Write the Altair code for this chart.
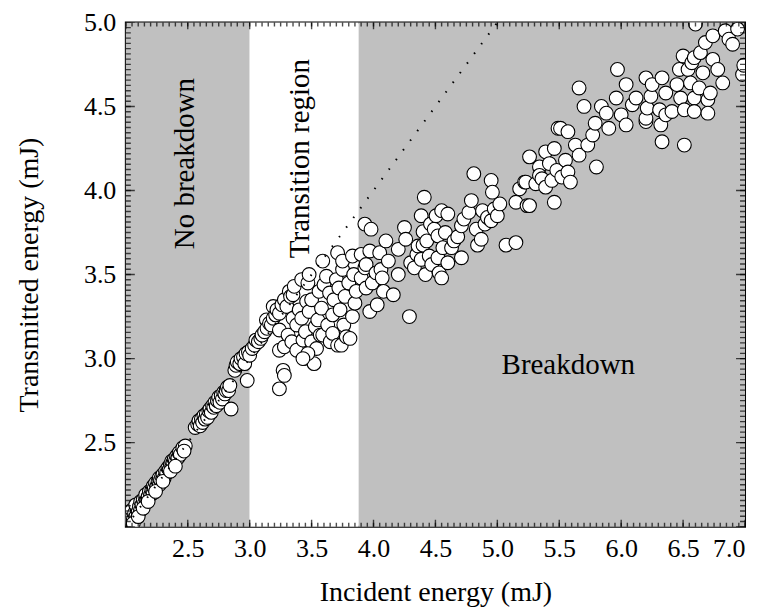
import altair as alt
import numpy as np
import pandas as pd

# ---------------- data ----------------
no_breakdown_pts = [
    (2.03, 2.05), (2.04, 2.03), (2.05, 2.07), (2.06, 2.04), (2.05, 2.10), (2.07, 2.08),
    (2.08, 2.06), (2.09, 2.11), (2.08, 2.13), (2.10, 2.09), (2.11, 2.12), (2.12, 2.10),
    (2.12, 2.15), (2.13, 2.13), (2.14, 2.16), (2.15, 2.14), (2.16, 2.17), (2.16, 2.19),
    (2.17, 2.16), (2.18, 2.18), (2.19, 2.21), (2.20, 2.19), (2.21, 2.22), (2.22, 2.20),
    (2.22, 2.24), (2.23, 2.23), (2.24, 2.26), (2.25, 2.24), (2.26, 2.27), (2.27, 2.25),
    (2.27, 2.29), (2.28, 2.28), (2.29, 2.30), (2.30, 2.31), (2.31, 2.29), (2.32, 2.33),
    (2.33, 2.32), (2.34, 2.35), (2.35, 2.34), (2.36, 2.37), (2.37, 2.36), (2.37, 2.39),
    (2.38, 2.38), (2.39, 2.40), (2.40, 2.39), (2.41, 2.42), (2.42, 2.41), (2.43, 2.44),
    (2.44, 2.43), (2.46, 2.47), (2.48, 2.48), (2.47, 2.45), (2.06, 2.02), (2.10, 2.06),
    (2.14, 2.11), (2.18, 2.15), (2.24, 2.21), (2.30, 2.27), (2.36, 2.33), (2.40, 2.36),
    (2.56, 2.59), (2.58, 2.61), (2.59, 2.63), (2.60, 2.60), (2.61, 2.64), (2.62, 2.62),
    (2.63, 2.66), (2.64, 2.64), (2.65, 2.67), (2.66, 2.65), (2.67, 2.69), (2.68, 2.70),
    (2.69, 2.68), (2.70, 2.72), (2.71, 2.71), (2.72, 2.74), (2.73, 2.72), (2.74, 2.75),
    (2.75, 2.77), (2.76, 2.74), (2.77, 2.78), (2.78, 2.76), (2.79, 2.80), (2.80, 2.79),
    (2.81, 2.81), (2.82, 2.83), (2.83, 2.81), (2.84, 2.84), (2.85, 2.70),
    (2.88, 2.93), (2.89, 2.96), (2.90, 2.98), (2.92, 2.97), (2.93, 3.00), (2.95, 3.01),
    (2.96, 2.97), (2.97, 3.03), (2.98, 2.87), (2.99, 3.04),
]

transition_pts = [
    (3.00, 3.02), (3.02, 3.06), (3.04, 3.08), (3.05, 3.11), (3.07, 3.10), (3.09, 3.12),
    (3.10, 3.14), (3.12, 3.16), (3.135, 3.23), (3.14, 3.18), (3.16, 3.21), (3.175, 3.20),
    (3.19, 3.31), (3.19, 3.24), (3.21, 3.26), (3.22, 3.29), (3.24, 3.27), (3.24, 3.17),
    (3.24, 3.05), (3.24, 2.82), (3.27, 2.93), (3.28, 2.90), (3.28, 3.07), (3.26, 3.32),
    (3.28, 3.35), (3.30, 3.31), (3.31, 3.14), (3.32, 3.40), (3.33, 3.37), (3.35, 3.38),
    (3.35, 3.24), (3.34, 3.10), (3.36, 3.43), (3.38, 3.20), (3.38, 3.05), (3.40, 3.29),
    (3.42, 3.47), (3.42, 3.24), (3.43, 3.11), (3.44, 3.00), (3.45, 3.16), (3.46, 3.34),
    (3.47, 3.45), (3.48, 3.50), (3.48, 3.28), (3.50, 3.35), (3.50, 3.10), (3.52, 2.97),
    (3.53, 3.19), (3.54, 3.06), (3.55, 3.23), (3.56, 3.40), (3.57, 3.14), (3.58, 3.30),
    (3.59, 3.58), (3.59, 3.14), (3.60, 3.44), (3.62, 3.49), (3.63, 3.20), (3.645, 3.39),
    (3.65, 3.10), (3.67, 3.26), (3.67, 3.15), (3.68, 3.35), (3.70, 3.47), (3.71, 3.63),
    (3.71, 3.08), (3.72, 3.42), (3.73, 3.29), (3.74, 3.08), (3.75, 3.53), (3.75, 3.58),
    (3.76, 3.20), (3.77, 3.37), (3.78, 3.13), (3.80, 3.45), (3.81, 3.12), (3.83, 3.61),
    (3.83, 3.25), (3.84, 3.50), (3.85, 3.33), (3.86, 3.40), (3.47, 3.03), (3.43, 3.00),
]

breakdown_pts = [
    (3.90, 3.48), (3.90, 3.62), (3.93, 3.80), (3.93, 3.54), (3.94, 3.42), (3.94, 3.56),
    (3.97, 3.64), (3.97, 3.28), (3.98, 3.77), (3.99, 3.45), (4.02, 3.51), (4.03, 3.32),
    (4.05, 3.63), (4.06, 3.53), (4.07, 3.48), (4.08, 3.40), (4.10, 3.70), (4.12, 3.58),
    (4.16, 3.38), (4.20, 3.65), (4.20, 3.50), (4.25, 3.78), (4.26, 3.71), (4.29, 3.25),
    (4.30, 3.57), (4.33, 3.54), (4.35, 3.62), (4.36, 3.67), (4.385, 3.85), (4.385, 3.59),
    (4.40, 3.755), (4.40, 3.675), (4.41, 3.96), (4.42, 3.50), (4.43, 3.70), (4.45, 3.61),
    (4.46, 3.80), (4.47, 3.56), (4.49, 3.77), (4.505, 3.85), (4.52, 3.73), (4.52, 3.60),
    (4.53, 3.51), (4.55, 3.88), (4.55, 3.48), (4.56, 3.66), (4.58, 3.75), (4.60, 3.86),
    (4.60, 3.57), (4.63, 3.66), (4.65, 3.70), (4.68, 3.725), (4.71, 3.79), (4.71, 3.60),
    (4.73, 3.83), (4.77, 3.87), (4.79, 3.94), (4.81, 4.10), (4.83, 3.77), (4.84, 3.675),
    (4.87, 3.71), (4.88, 3.88), (4.90, 3.80), (4.92, 3.84), (4.95, 4.06), (4.95, 3.82),
    (4.96, 3.99), (4.975, 3.89), (5.00, 3.85), (5.02, 3.92), (5.07, 3.675), (5.15, 3.69),
    (5.15, 3.93), (5.18, 4.01), (5.22, 4.05), (5.24, 3.91), (5.23, 4.05),
    (5.26, 4.20), (5.26, 3.91), (5.31, 4.04), (5.34, 4.14), (5.34, 4.09), (5.36, 4.07),
    (5.39, 4.23), (5.39, 4.02), (5.42, 4.16), (5.44, 4.06), (5.46, 4.25), (5.46, 3.93),
    (5.48, 4.12), (5.49, 4.37), (5.51, 4.37), (5.52, 4.08), (5.55, 4.18), (5.57, 4.35),
    (5.57, 4.11), (5.59, 4.05), (5.63, 4.27), (5.66, 4.21), (5.66, 4.61), (5.70, 4.50),
    (5.73, 4.27), (5.77, 4.33), (5.79, 4.40), (5.80, 4.14), (5.84, 4.50), (5.88, 4.46),
    (5.90, 4.37), (5.96, 4.55), (5.97, 4.72), (6.00, 4.45), (6.04, 4.63), (6.04, 4.39),
    (6.09, 4.51), (6.12, 4.55), (6.20, 4.41),
    (6.20, 4.67), (6.20, 4.43), (6.21, 4.49), (6.24, 4.56), (6.25, 4.63), (6.31, 4.48),
    (6.32, 4.39), (6.33, 4.67), (6.33, 4.29), (6.36, 4.58), (6.36, 4.45), (6.41, 4.47),
    (6.45, 4.63), (6.47, 4.72), (6.48, 4.55), (6.50, 4.80), (6.51, 4.48), (6.51, 4.27),
    (6.54, 4.72), (6.56, 4.64), (6.57, 4.76), (6.59, 4.79), (6.59, 4.55), (6.59, 4.47),
    (6.60, 4.99), (6.63, 4.61), (6.64, 4.82), (6.66, 4.70), (6.68, 4.88), (6.70, 4.54),
    (6.70, 4.46), (6.72, 4.58), (6.74, 4.92), (6.74, 4.78), (6.78, 4.72), (6.82, 4.64),
    (6.84, 4.95), (6.87, 4.90), (6.90, 4.87), (6.94, 4.96), (6.98, 4.69), (6.99, 4.745),
]

region_names = ["No breakdown", "Transition region", "Breakdown"]
region_start = [2.0, 3.0, 3.88]
region_end = [3.0, 3.88, 7.0]

diag_x = [2.0, 5.0]
diag_y = [2.0, 5.0]

annot_rot_text = ["No breakdown", "Transition region"]
annot_rot_x = [2.476, 3.403]
annot_rot_y = [4.16, 4.19]
annot_hor_text = ["Breakdown"]
annot_hor_x = [5.573]
annot_hor_y = [2.963]

x_label_vals = [2.5, 3.0, 3.5, 4.0, 4.5, 5.0, 5.5, 6.0, 6.5, 7.0]
y_label_vals = [2.5, 3.0, 3.5, 4.0, 4.5, 5.0]
x_major = [round(v, 3) for v in np.arange(2.0, 7.0001, 0.5)]
x_minor = [round(v, 4) for v in np.arange(2.0, 7.0001, 0.05)]
y_major = [round(v, 3) for v in np.arange(2.0, 5.0001, 0.5)]
y_minor = [round(v, 5) for v in np.arange(2.0, 5.0001, 0.03125)]

X_DOM = [2.0, 7.0]
Y_DOM = [2.0, 5.0]

# ---------------- tables ----------------
pts = pd.DataFrame(no_breakdown_pts + transition_pts + breakdown_pts,
                   columns=["incident", "transmitted"])
regions = pd.DataFrame({"region": region_names, "start": region_start, "end": region_end})
diag = pd.DataFrame({"incident": diag_x, "transmitted": diag_y})
rot_df = pd.DataFrame({"t": annot_rot_text, "incident": annot_rot_x, "transmitted": annot_rot_y})
hor_df = pd.DataFrame({"t": annot_hor_text, "incident": annot_hor_x, "transmitted": annot_hor_y})


def xticks(vals):
    return pd.DataFrame([(v, e) for v in vals for e in Y_DOM], columns=["incident", "transmitted"])


def yticks(vals):
    return pd.DataFrame([(e, v) for v in vals for e in X_DOM], columns=["incident", "transmitted"])


W, H = 620, 505
FONT = "Liberation Serif"

xs = alt.Scale(domain=X_DOM, nice=False, zero=False)
ys = alt.Scale(domain=Y_DOM, nice=False, zero=False)
xaxis = alt.Axis(values=x_label_vals, format=".1f", ticks=False, tickSize=0, domain=False,
                 grid=False, labelPadding=9, titlePadding=17)
yaxis = alt.Axis(values=y_label_vals, format=".1f", ticks=False, tickSize=0, domain=False,
                 grid=False, labelPadding=10, titlePadding=40)
XT = "Incident energy (mJ)"
YT = "Transmitted energy (mJ)"


def X(field):
    return alt.X(field, type="quantitative", scale=xs, axis=xaxis, title=XT)


def Y(field):
    return alt.Y(field, type="quantitative", scale=ys, axis=yaxis, title=YT)


bg = alt.Chart(regions).mark_rect().encode(
    x=X("start"),
    x2="end",
    y=alt.Y(datum=Y_DOM[0], type="quantitative", scale=ys, axis=yaxis, title=YT),
    y2=alt.Y2(datum=Y_DOM[1]),
    color=alt.Color("region:N", legend=None,
                    scale=alt.Scale(domain=region_names, range=["#c0c0c0", "#ffffff", "#c0c0c0"])),
)

points = alt.Chart(pts).mark_point(
    shape="circle", filled=True, fill="white", stroke="black", strokeWidth=1.1,
    size=190, opacity=1, clip=True
).encode(x=X("incident"), y=Y("transmitted"))

diag_line = alt.Chart(diag).mark_line(
    color="black", strokeWidth=2, strokeDash=[1.5, 10.5], clip=True
).encode(x=X("incident"), y=Y("transmitted"))

tick_style = dict(color="black", thickness=1.4, clip=True)
xmaj = alt.Chart(xticks(x_major)).mark_tick(orient="vertical", size=14, **tick_style).encode(
    x=X("incident"), y=Y("transmitted"))
xmin = alt.Chart(xticks(x_minor)).mark_tick(orient="vertical", size=8, **tick_style).encode(
    x=X("incident"), y=Y("transmitted"))
ymaj = alt.Chart(yticks(y_major)).mark_tick(orient="horizontal", size=18, **tick_style).encode(
    x=X("incident"), y=Y("transmitted"))
ymin = alt.Chart(yticks(y_minor)).mark_tick(orient="horizontal", size=10, **tick_style).encode(
    x=X("incident"), y=Y("transmitted"))

rot_text = alt.Chart(rot_df).mark_text(
    angle=270, font=FONT, fontSize=29, color="black", align="center", baseline="middle"
).encode(x=X("incident"), y=Y("transmitted"), text="t:N")

hor_text = alt.Chart(hor_df).mark_text(
    font=FONT, fontSize=29, color="black", align="center", baseline="middle"
).encode(x=X("incident"), y=Y("transmitted"), text="t:N")

chart = alt.layer(
    bg, rot_text, hor_text, points, diag_line, xmaj, xmin, ymaj, ymin
).properties(
    width=W, height=H,
    autosize=alt.AutoSizeParams(type="none"),
    padding={"left": 118, "top": 14, "right": 12, "bottom": 84},
).configure_view(
    stroke="black", strokeWidth=2
).configure_axis(
    labelFont=FONT, labelFontSize=26, labelColor="black",
    titleFont=FONT, titleFontSize=28, titleFontWeight="normal", titleColor="black",
)

chart.save("out.html", embed_options={"renderer": "svg", "actions": False})
